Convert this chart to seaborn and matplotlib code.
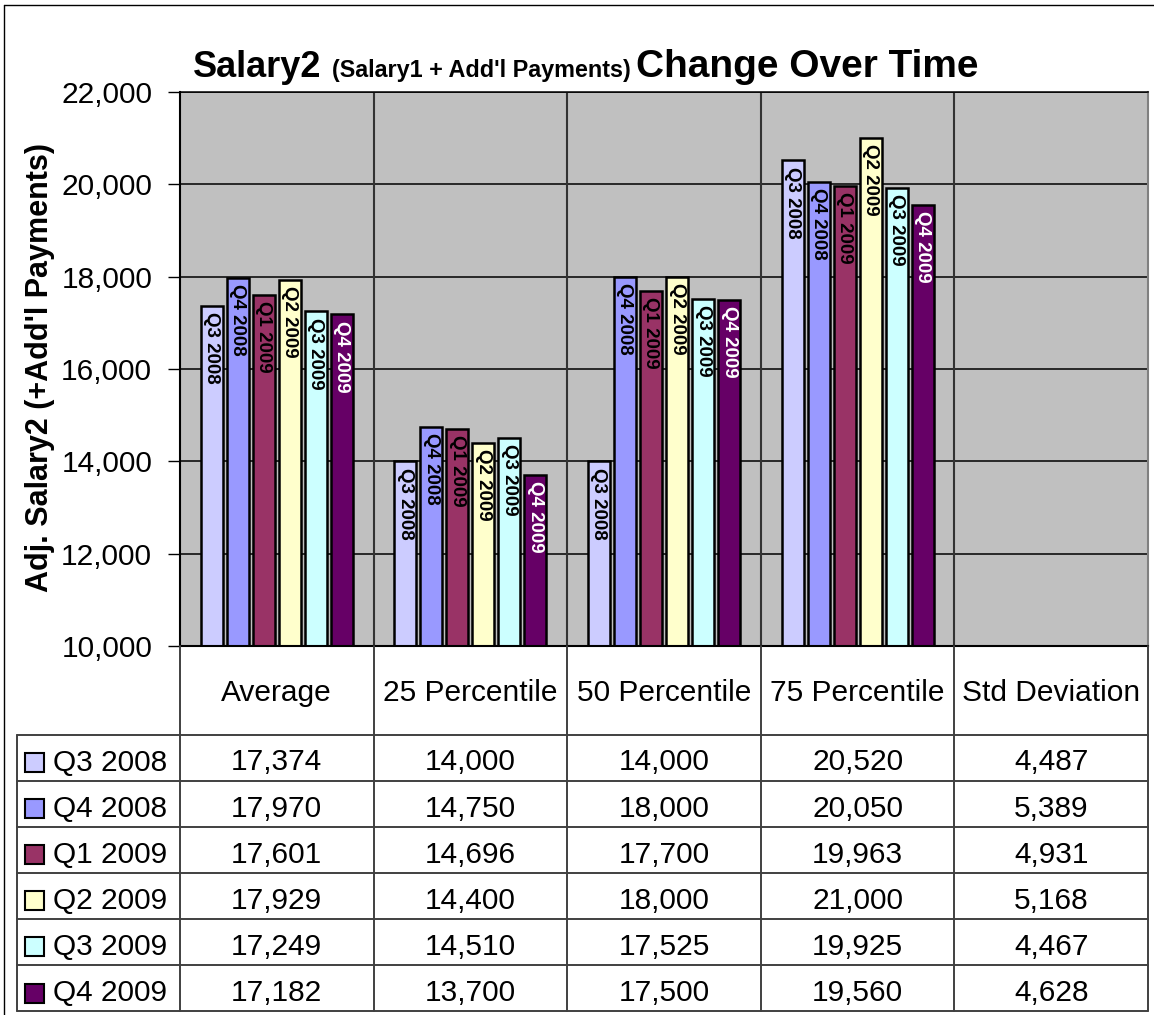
import numpy as np
import pandas as pd
import matplotlib
matplotlib.use('Agg')
import matplotlib.pyplot as plt
import seaborn as sns
from matplotlib.patches import Rectangle
from matplotlib.ticker import FuncFormatter

# Chart data
categories = ['Average', '25 Percentile', '50 Percentile', '75 Percentile', 'Std Deviation']
quarters = ['Q3 2008', 'Q4 2008', 'Q1 2009', 'Q2 2009', 'Q3 2009', 'Q4 2009']
q3_2008 = [17374, 14000, 14000, 20520, 4487]
q4_2008 = [17970, 14750, 18000, 20050, 5389]
q1_2009 = [17601, 14696, 17700, 19963, 4931]
q2_2009 = [17929, 14400, 18000, 21000, 5168]
q3_2009 = [17249, 14510, 17525, 19925, 4467]
q4_2009 = [17182, 13700, 17500, 19560, 4628]
series = [q3_2008, q4_2008, q1_2009, q2_2009, q3_2009, q4_2009]
colors = ['#CCCCFF', '#9999FF', '#993366', '#FFFFCC', '#CCFFFF', '#660066']
label_colors = ['black', 'black', 'black', 'black', 'black', 'white']

df = pd.DataFrame([
    {'Statistic': c, 'Quarter': q, 'Salary': v}
    for q, vals in zip(quarters, series)
    for c, v in zip(categories, vals)
])

sns.set_style('white')
plt.rcParams['font.family'] = ['Liberation Sans', 'DejaVu Sans']
plt.rcParams['text.color'] = 'black'
plt.rcParams['axes.labelcolor'] = 'black'
plt.rcParams['ytick.color'] = 'black'
plt.rcParams['xtick.color'] = 'black'

# layout in pixels
W, H = 1154, 1015
AX_L, AX_R, AX_T, AX_B = 180, 1148, 92, 646
Y_MIN, Y_MAX = 10000, 22000

fig = plt.figure(figsize=(W / 100, H / 100), dpi=100)
ax = fig.add_axes([AX_L / W, 1 - AX_B / H, (AX_R - AX_L) / W, (AX_B - AX_T) / H])
ax.set_facecolor('#C0C0C0')

sns.barplot(data=df, x='Statistic', y='Salary', hue='Quarter', order=categories,
            hue_order=quarters, palette=colors, saturation=1, width=0.806, gap=0.15,
            edgecolor='black', linewidth=1.8, errorbar=None, legend=False, ax=ax)

ax.set_xlim(-0.5, len(categories) - 0.5)
ax.set_ylim(Y_MIN, Y_MAX)
ax.set_yticks(np.arange(Y_MIN, Y_MAX + 1, 2000))
ax.yaxis.set_major_formatter(FuncFormatter(lambda v, p: f'{v:,.0f}'))
ax.tick_params(axis='y', direction='out', length=9, width=1, pad=11, labelsize=21.5,
               colors='black', left=True)
ax.set_xticks([])
ax.set_xlabel('')
ax.set_ylabel('')

ax.set_axisbelow(True)
ax.grid(axis='y', color='black', linewidth=1.1)
for xb in np.arange(0.5, len(categories) - 0.5, 1):
    ax.axvline(xb, color='#333333', linewidth=1.5, zorder=0.6)

for side in ['left', 'bottom']:
    ax.spines[side].set_color('black')
    ax.spines[side].set_linewidth(1.5)
ax.spines['right'].set_color('#808080')
ax.spines['right'].set_linewidth(1.5)
ax.spines['top'].set_color('black')
ax.spines['top'].set_linewidth(1.1)

# rotated quarter labels inside the bars
for container, q, vals, lc in zip(ax.containers, quarters, series, label_colors):
    for bar, v in zip(container, vals):
        if v <= Y_MIN:
            continue
        x = bar.get_x() + bar.get_width() / 2
        ax.annotate(q, (x, v), xytext=(0, -4.5), textcoords='offset points',
                    rotation=270, ha='center', va='top', fontsize=13.5,
                    fontweight='bold', color=lc)

# overlay in pixel coordinates for title, y label and data table
ov = fig.add_axes([0, 0, 1, 1], zorder=5)
ov.set_xlim(0, W)
ov.set_ylim(H, 0)
ov.axis('off')

# outer frame
ov.plot([4, 4], [5, H], color='black', linewidth=1)
ov.plot([4, W], [5, 5], color='black', linewidth=1)

# title
ov.text(193, 77, 'Salary2', fontsize=26, fontweight='bold', va='baseline')
ov.text(332, 77, "(Salary1 + Add'l Payments)", fontsize=16.8, fontweight='bold', va='baseline')
ov.text(636, 77, 'Change Over Time', fontsize=28, fontweight='bold', va='baseline')

# y label
ov.text(40, 367, "Adj. Salary2 (+Add'l Payments)", rotation=90, ha='center', va='center',
        fontsize=22, fontweight='bold')

# data table
ROW_TOP, ROW_H, TBL_L = 734.5, 46.1, 17
TBL_BOT = ROW_TOP + len(quarters) * ROW_H
col_edges = np.linspace(AX_L, AX_R, len(categories) + 1)
col_centers = (col_edges[:-1] + col_edges[1:]) / 2
line_kw = dict(color='#404040', linewidth=1.4)

for xe in col_edges:
    ov.plot([xe, xe], [AX_B, TBL_BOT], **line_kw)
ov.plot([TBL_L, TBL_L], [ROW_TOP, TBL_BOT], **line_kw)
for k in range(len(quarters) + 1):
    y = ROW_TOP + k * ROW_H
    ov.plot([TBL_L, AX_R], [y, y], **line_kw)

for cx, c in zip(col_centers, categories):
    ov.text(cx, 701, c, ha='center', va='baseline', fontsize=21.5)

for k, (q, vals, col) in enumerate(zip(quarters, series, colors)):
    top = ROW_TOP + k * ROW_H
    ov.add_patch(Rectangle((25, top + 18.5), 19, 19, facecolor=col,
                           edgecolor='black', linewidth=1.5))
    ov.text(53, top + 36, q, ha='left', va='baseline', fontsize=21.5)
    for cx, v in zip(col_centers, vals):
        ov.text(cx, top + 36, f'{v:,}', ha='center', va='baseline', fontsize=21.5)

fig.savefig('out.png', dpi=100)
